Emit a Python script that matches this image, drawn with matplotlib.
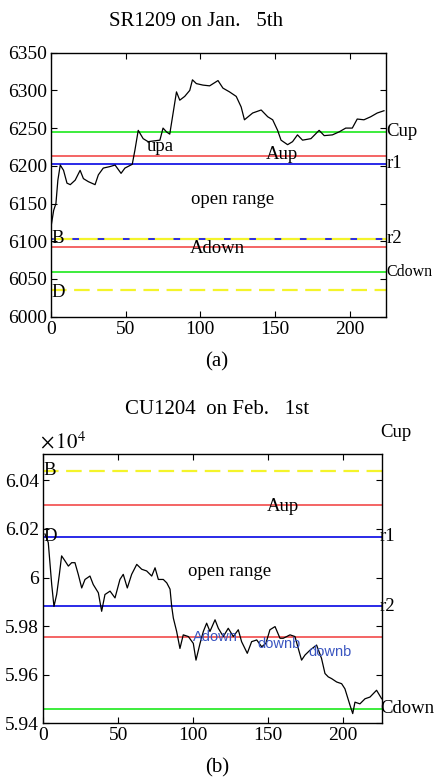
import matplotlib

matplotlib.use("Agg")

import matplotlib.pyplot as plt  # noqa: E402
from matplotlib.ticker import FuncFormatter  # noqa: E402

plt.rcParams["font.family"] = ["Liberation Serif", "DejaVu Serif"]
plt.rcParams["mathtext.fontset"] = "stix"
plt.rcParams["font.size"] = 13.5

# ---- panel (a): SR1209 on Jan. 5th ----
a_x = [0, 1.8, 3.3, 4.6, 6.2, 8.4, 10.7, 12.9, 16.2, 19.5, 21.7, 25, 29.5, 31.7,
       35, 39.5, 42.9, 46.9, 49.5, 54.4, 56.2, 58.4, 61.7, 65, 72.9, 75, 77.3,
       79.5, 84, 86.2, 89.5, 92.9, 94.7, 97.3, 101.7, 106.2, 111.8, 115.1,
       119.5, 124, 127.3, 129.5, 135, 140.7, 145.1, 148.4, 151.7, 154, 158.4,
       161.7, 165, 168.4, 174, 179.5, 182.9, 188.4, 192.9, 197.3, 201.7, 205,
       209.5, 214, 218.4, 222.9]
a_y = [6119, 6141, 6150, 6181, 6201, 6194, 6177, 6175, 6181, 6194, 6183, 6179,
       6175, 6188, 6197, 6199, 6201, 6190, 6197, 6202, 6221, 6247, 6236, 6232,
       6234, 6250, 6245, 6242, 6298, 6287, 6292, 6300, 6314, 6309, 6307, 6306,
       6313, 6303, 6298, 6292, 6278, 6261, 6270, 6274, 6265, 6261, 6247, 6234,
       6228, 6232, 6241, 6234, 6236, 6247, 6240, 6241, 6245, 6250, 6250, 6262,
       6261, 6265, 6270, 6273]
a_levels = {"Cup": 6245, "Aup": 6213, "r1": 6203, "B": 6103, "r2": 6103,
            "Adown": 6092, "Cdown": 6059, "D": 6035}
a_yticks = [6000, 6050, 6100, 6150, 6200, 6250, 6300, 6350]

# ---- panel (b): CU1204 on Feb. 1st ----
b_x = [1.1, 3.3, 4.5, 5.6, 7.1, 8.9, 10.7, 12.2, 14.5, 16.7, 18.9, 21.1, 23.3,
       25.6, 27.8, 31.1, 33.3, 36.7, 38.9, 41.1, 44.5, 47.8, 51.1, 53.3, 56,
       58.9, 62.3, 65.6, 68.9, 72.3, 74.5, 76.7, 80, 82.3, 84.5, 85.6, 86.7,
       88.9, 91.1, 93.3, 96.7, 100, 101.8, 104.5, 106.7, 108.9, 111.1, 114.5,
       116.7, 120, 123.3, 126.7, 130, 132.2, 136, 138.9, 142.3, 145.6, 148.4,
       151.1, 154.5, 157.8, 160, 164.5, 167.8, 170, 172.2, 174.5, 178, 182.2,
       185.5, 187.8, 190, 192.2, 195.6, 198.9, 201.1, 204.5, 206.3, 207.8,
       211.1, 214.5, 217.8, 222.2, 225.6]
b_y = [60179, 60144, 60054, 59971, 59881, 59930, 60013, 60089, 60068, 60047,
       60061, 60061, 60013, 59957, 59992, 60006, 59971, 59937, 59861, 59930,
       59944, 59916, 59992, 60013, 59957, 60013, 60054, 60034, 60027, 60006,
       60040, 59992, 59992, 59978, 59952, 59881, 59833, 59778, 59708, 59764,
       59757, 59729, 59660, 59729, 59778, 59812, 59778, 59826, 59791, 59757,
       59791, 59757, 59785, 59736, 59688, 59736, 59743, 59715, 59729, 59785,
       59798, 59750, 59750, 59764, 59757, 59708, 59660, 59681, 59702, 59722,
       59667, 59605, 59591, 59584, 59570, 59563, 59542, 59474, 59440, 59487,
       59480, 59501, 59508, 59536, 59501]
b_levels = {"Cup": 60596, "B": 60439, "Aup": 60299, "r1": 60168, "D": 60168,
            "r2": 59881, "Adown": 59757, "Cdown": 59459}
b_yticks = [59400, 59600, 59800, 60000, 60200, 60400]

GREEN = "#3cec3c"
RED = "#f24a4a"
BLUE = "#2a2ae8"
YELLOW = "#f4f42a"
LABEL_BLUE = "#3a55c0"
SANS = ["Liberation Sans", "DejaVu Sans"]

fig = plt.figure(figsize=(4.34, 7.79), dpi=100)


def style_axes(ax):
    ax.tick_params(direction="in", top=True, right=True, length=4, width=0.8,
                   pad=3, labelsize=14)
    for s in ax.spines.values():
        s.set_linewidth(1.0)
    ax.set_xticks([0, 50, 100, 150, 200])


# ---------------- (a) ----------------
ax1 = fig.add_axes([0.1175, 0.5935, 0.771, 0.3389])
ax1.axhline(a_levels["Cup"], color=GREEN, lw=1.4)
ax1.axhline(a_levels["Aup"], color=RED, lw=1.2)
ax1.axhline(a_levels["r1"], color=BLUE, lw=1.4)
ax1.axhline(a_levels["B"], color=YELLOW, lw=1.6)
ax1.axhline(a_levels["r2"], color=BLUE, lw=1.4, ls=(2, (3.4, 9.6)))
ax1.axhline(a_levels["Adown"], color=RED, lw=1.2)
ax1.axhline(a_levels["Cdown"], color=GREEN, lw=1.4)
ax1.axhline(a_levels["D"], color=YELLOW, lw=1.6, ls=(0, (7, 3.4)))
ax1.plot(a_x, a_y, color="black", lw=0.9)
ax1.set_xlim(0, 224)
ax1.set_ylim(6000, 6350)
ax1.set_yticks(a_yticks)
style_axes(ax1)

ax1.text(64, 6225, "upa", va="center", ha="left")
ax1.text(144, 6215, "Aup", va="center", ha="left")
ax1.text(94, 6155, "open range", va="center", ha="left")
ax1.text(93, 6091, "Adown", va="center", ha="left")
ax1.text(0, a_levels["B"], "B", va="center", ha="left")
ax1.text(0, 6032, "D", va="center", ha="left")
for name in ["Cup", "r1", "r2"]:
    ax1.text(224.5, a_levels[name], name, va="center", ha="left", clip_on=False)
ax1.text(224.2, a_levels["Cdown"], "Cdown", va="center", ha="left",
         clip_on=False, fontsize=11.5)

fig.text(196 / 434, 1 - 21 / 779, "SR1209 on Jan.   5th", ha="center",
         va="center", fontsize=15)
fig.text(217 / 434, 1 - 362 / 779, "(a)", ha="center", va="center", fontsize=15)

# ---------------- (b) ----------------
ax2 = fig.add_axes([0.0998, 0.0715, 0.781, 0.3453])
ax2.axhline(b_levels["B"], color=YELLOW, lw=1.6, ls=(0, (7, 3.4)))
ax2.axhline(b_levels["Aup"], color=RED, lw=1.2)
ax2.axhline(b_levels["r1"], color=BLUE, lw=1.4)
ax2.axhline(b_levels["r2"], color=BLUE, lw=1.4)
ax2.axhline(b_levels["Adown"], color=RED, lw=1.2)
ax2.axhline(b_levels["Cdown"], color=GREEN, lw=1.4)
ax2.plot(b_x, b_y, color="black", lw=0.9)
ax2.set_xlim(0, 226)
ax2.set_ylim(59400, 60507)
ax2.set_yticks(b_yticks)
ax2.yaxis.set_major_formatter(FuncFormatter(lambda v, _: f"{v / 1e4:g}"))
style_axes(ax2)

ax2.text(149, 60292, "Aup", va="center", ha="left")
ax2.text(96.7, 60024, "open range", va="center", ha="left")
ax2.text(0, b_levels["B"], "B", va="center", ha="left")
ax2.text(0, b_levels["D"], "D", va="center", ha="left")
ax2.text(100, 59757, "Adown", va="center", ha="left", color=LABEL_BLUE,
         family=SANS, fontsize=10.5)
ax2.text(143, 59725, "downb", va="center", ha="left", color=LABEL_BLUE,
         family=SANS, fontsize=10.5)
ax2.text(176.7, 59692, "downb", va="center", ha="left", color=LABEL_BLUE,
         family=SANS, fontsize=10.5)
for name in ["Cup", "r1", "r2", "Cdown"]:
    ax2.text(224.5, b_levels[name], name, va="center", ha="left", clip_on=False)

fig.text(40 / 434, 1 - 443 / 779, r"$\times\,10^{4}$", ha="left", va="center",
         fontsize=15)
fig.text(217 / 434, 1 - 410 / 779, "CU1204  on Feb.   1st", ha="center",
         va="center", fontsize=15)
fig.text(217 / 434, 1 - 768 / 779, "(b)", ha="center", va="center", fontsize=15)

fig.savefig("out.png", dpi=100)
